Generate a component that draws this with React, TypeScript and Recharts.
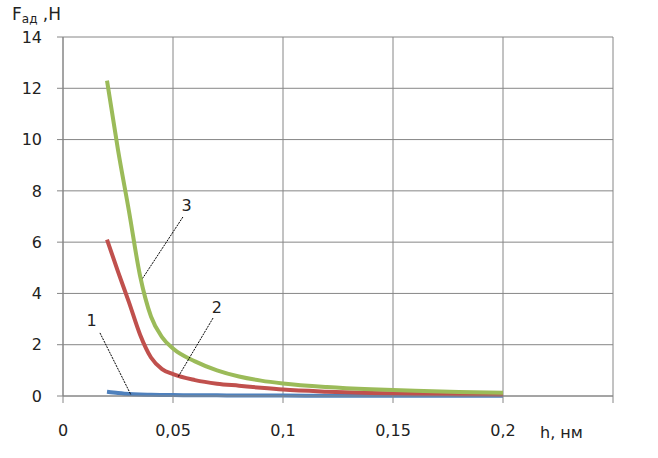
import React from 'react'
import { LineChart, Line, XAxis, YAxis, CartesianGrid, ReferenceLine, ReferenceDot } from 'recharts'

const hValues = [0.02, 0.025, 0.03, 0.035, 0.04, 0.045, 0.05, 0.06, 0.07, 0.08, 0.09, 0.1, 0.12, 0.14, 0.16, 0.18, 0.2]
const curve1 = [0.17, 0.12, 0.08, 0.06, 0.05, 0.04, 0.035, 0.03, 0.025, 0.02, 0.02, 0.015, 0.012, 0.01, 0.01, 0.01, 0.01]
const curve2 = [6.1, 4.85, 3.65, 2.4, 1.5, 1.05, 0.85, 0.62, 0.48, 0.4, 0.32, 0.25, 0.17, 0.12, 0.09, 0.07, 0.06]
const curve3 = [12.3, 9.6, 7.2, 4.7, 3.1, 2.3, 1.85, 1.35, 1.0, 0.76, 0.6, 0.49, 0.35, 0.26, 0.2, 0.16, 0.13]

const xTicks = [0, 0.05, 0.1, 0.15, 0.2, 0.25]
const yTicks = [0, 2, 4, 6, 8, 10, 12, 14]

// callouts: label position and leader line ends, in data units
const callouts = [
  { name: '1', label: { x: 0.013, y: 2.96 }, from: { x: 0.0168, y: 2.46 }, to: { x: 0.0309, y: 0.04 } },
  { name: '2', label: { x: 0.0699, y: 3.47 }, from: { x: 0.0682, y: 3.04 }, to: { x: 0.0523, y: 0.74 } },
  { name: '3', label: { x: 0.0562, y: 7.45 }, from: { x: 0.0545, y: 6.98 }, to: { x: 0.0362, y: 4.59 } },
]

const data = hValues.map((h, i) => ({ h, c1: curve1[i], c2: curve2[i], c3: curve3[i] }))

const font = 'DejaVu Sans, sans-serif'
const gridColor = '#868686'

export default function App() {
  return (
    <div style={{ position: 'fixed', left: 0, top: 0, width: 658, height: 458, background: '#fff', fontFamily: font }}>
      <LineChart width={658} height={458} data={data} margin={{ top: 37, right: 45, bottom: 0, left: 0 }}>
        <CartesianGrid stroke={gridColor} strokeWidth={1} />
        <XAxis
          dataKey="h"
          type="number"
          domain={[0, 0.25]}
          ticks={xTicks}
          height={62}
          tickFormatter={(v: number) => (v === 0.25 ? '' : String(v).replace('.', ','))}
          stroke={gridColor}
          tickSize={7}
          tickMargin={22}
          tick={{ fill: '#222', fontSize: 16, fontFamily: font }}
        />
        <YAxis
          type="number"
          domain={[0, 14]}
          ticks={yTicks}
          width={63}
          stroke={gridColor}
          tickSize={6}
          tickMargin={15}
          tick={{ fill: '#222', fontSize: 16, fontFamily: font }}
        />
        <Line type="monotone" dataKey="c1" stroke="#4F81BD" strokeWidth={4} dot={false} isAnimationActive={false} />
        <Line type="monotone" dataKey="c2" stroke="#C0504D" strokeWidth={4} dot={false} isAnimationActive={false} />
        <Line type="monotone" dataKey="c3" stroke="#9BBB59" strokeWidth={4} dot={false} isAnimationActive={false} />
        {callouts.map(c => (
          <ReferenceLine
            key={'l' + c.name}
            segment={[c.from, c.to]}
            stroke="#000"
            strokeWidth={1}
            strokeDasharray="2 1"
          />
        ))}
        {callouts.map(c => (
          <ReferenceDot
            key={'d' + c.name}
            x={c.label.x}
            y={c.label.y}
            r={0}
            fill="none"
            stroke="none"
            label={{ value: c.name, position: 'center', fill: '#222', fontSize: 16, fontFamily: font }}
          />
        ))}
      </LineChart>
      <div style={{ position: 'absolute', left: 12, top: 4, fontSize: 17, color: '#222', whiteSpace: 'nowrap' }}>
        F<span style={{ fontSize: 12, position: 'relative', top: 3 }}>ад</span> ,Н
      </div>
      <div style={{ position: 'absolute', left: 540, top: 423, fontSize: 16, color: '#222', whiteSpace: 'nowrap' }}>
        h, нм
      </div>
    </div>
  )
}
